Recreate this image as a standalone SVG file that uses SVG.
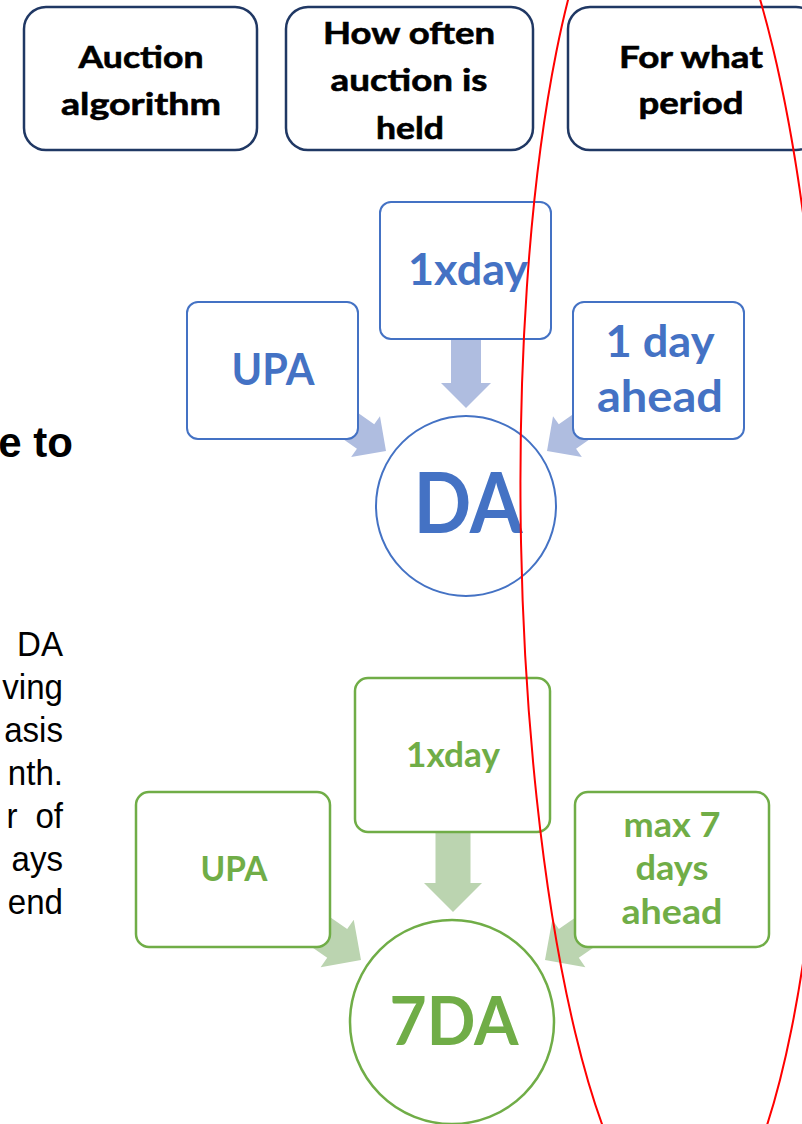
<svg xmlns="http://www.w3.org/2000/svg" width="802" height="1124" viewBox="0 0 802 1124">
  <style>
    .hdr { fill: #ffffff; stroke: #203864; stroke-width: 2.5; }
    .hdr-t { font-family: Lato, "Open Sans", sans-serif; font-weight: 700; font-size: 31px; fill: #000000; stroke: #000000; stroke-width: 0.6; text-anchor: middle; }
    .bbox { fill: #ffffff; stroke: #4472C4; stroke-width: 2; }
    .b-t { font-family: Lato, "Open Sans", sans-serif; font-weight: 700; fill: #4472C4; text-anchor: middle; }
    .gbox { fill: #ffffff; stroke: #70AD47; stroke-width: 2.5; }
    .g-t { font-family: Lato, "Open Sans", sans-serif; font-weight: 700; fill: #70AD47; text-anchor: middle; }
    .body-t { font-family: "Liberation Sans", Arial, sans-serif; font-size: 36px; fill: #000000; text-anchor: end; }
    .barrow { fill: #AFBDE0; }
    .garrow { fill: #BBD4B0; }
  </style>
  <defs>
    <!-- block arrows, tip at origin pointing along +x -->
    <path id="arrowB" d="M0,0 L-25,-25 L-25,-15 L-70,-15 L-70,15 L-25,15 L-25,25 Z"/>
    <path id="arrowBdown" d="M0,0 L-25,-25 L-25,-15 L-68,-15 L-68,15 L-25,15 L-25,25 Z"/>
    <path id="arrowG" d="M0,0 L-29,-29 L-29,-17.5 L-80,-17.5 L-80,17.5 L-29,17.5 L-29,29 Z"/>
  </defs>

  <rect width="802" height="1124" fill="#ffffff"/>

  <!-- column headers -->
  <g id="hdr-algorithm">
    <rect class="hdr" x="24" y="7" width="233" height="143" rx="22"/>
    <text class="hdr-t" x="141" y="68" textLength="125" lengthAdjust="spacingAndGlyphs">Auction</text>
    <text class="hdr-t" x="141" y="115" textLength="160" lengthAdjust="spacingAndGlyphs">algorithm</text>
  </g>
  <g id="hdr-frequency">
    <rect class="hdr" x="286" y="7" width="247" height="143" rx="22"/>
    <text class="hdr-t" x="409" y="44" textLength="172" lengthAdjust="spacingAndGlyphs">How often</text>
    <text class="hdr-t" x="409" y="91" textLength="157" lengthAdjust="spacingAndGlyphs">auction is</text>
    <text class="hdr-t" x="410" y="139" textLength="68" lengthAdjust="spacingAndGlyphs">held</text>
  </g>
  <g id="hdr-period">
    <rect class="hdr" x="568" y="7" width="250" height="143" rx="22"/>
    <text class="hdr-t" x="691" y="68" textLength="144" lengthAdjust="spacingAndGlyphs">For what</text>
    <text class="hdr-t" x="691" y="114" textLength="105" lengthAdjust="spacingAndGlyphs">period</text>
  </g>

  <!-- text column on the left -->
  <g id="side-text">
    <text x="73" y="457" font-family="'Liberation Sans', Arial, sans-serif" font-size="42" font-weight="700" text-anchor="end">e to</text>
    <g transform="scale(0.92,1)">
      <text class="body-t" x="68.5" y="656">DA</text>
      <text class="body-t" x="68.5" y="699">ving</text>
      <text class="body-t" x="68.5" y="742">asis</text>
      <text class="body-t" x="68.5" y="785">nth.</text>
      <text class="body-t" x="19" y="828">r</text>
      <text class="body-t" x="68.5" y="828">of</text>
      <text class="body-t" x="68.5" y="871">ays</text>
      <text class="body-t" x="68.5" y="914">end</text>
    </g>
  </g>

  <!-- connectors -->
  <g id="connectors">
    <use href="#arrowBdown" class="barrow" transform="translate(466,408) rotate(90)"/>
    <use href="#arrowB" class="barrow" transform="translate(386,451) rotate(35.2)"/>
    <use href="#arrowB" class="barrow" transform="translate(547,451) rotate(144.8)"/>
    <use href="#arrowG" class="garrow" transform="translate(453,912) rotate(90)"/>
    <use href="#arrowG" class="garrow" transform="translate(361,960) rotate(34.8)"/>
    <use href="#arrowG" class="garrow" transform="translate(545,960) rotate(145.2)"/>
  </g>

  <!-- DA group -->
  <g id="da-frequency">
    <rect class="bbox" x="380" y="202" width="171" height="137" rx="11"/>
    <text class="b-t" x="468" y="285" font-size="44" textLength="120" lengthAdjust="spacingAndGlyphs">1xday</text>
  </g>
  <g id="da-algorithm">
    <rect class="bbox" x="187" y="302" width="171" height="137" rx="11"/>
    <text class="b-t" x="273" y="385" font-size="44" textLength="83" lengthAdjust="spacingAndGlyphs">UPA</text>
  </g>
  <g id="da-period">
    <rect class="bbox" x="573" y="302" width="171" height="137" rx="11"/>
    <text class="b-t" x="660" y="357" font-size="44" textLength="109" lengthAdjust="spacingAndGlyphs">1 day</text>
    <text class="b-t" x="660" y="412" font-size="44" textLength="126" lengthAdjust="spacingAndGlyphs">ahead</text>
  </g>
  <g id="da-core">
    <circle cx="466" cy="506" r="90" fill="#ffffff" stroke="#4472C4" stroke-width="2"/>
    <text class="b-t" x="468" y="533" font-size="84" textLength="109" lengthAdjust="spacingAndGlyphs">DA</text>
  </g>

  <!-- 7DA group -->
  <g id="w7da-frequency">
    <rect class="gbox" x="355" y="678" width="195" height="154" rx="13"/>
    <text class="g-t" x="453" y="767" font-size="35" textLength="94" lengthAdjust="spacingAndGlyphs">1xday</text>
  </g>
  <g id="w7da-algorithm">
    <rect class="gbox" x="136" y="792" width="194" height="155" rx="13"/>
    <text class="g-t" x="234" y="881" font-size="35" textLength="67" lengthAdjust="spacingAndGlyphs">UPA</text>
  </g>
  <g id="w7da-period">
    <rect class="gbox" x="575" y="792" width="194" height="155" rx="13"/>
    <text class="g-t" x="672" y="837" font-size="35" textLength="97" lengthAdjust="spacingAndGlyphs">max 7</text>
    <text class="g-t" x="672" y="880" font-size="35" textLength="73" lengthAdjust="spacingAndGlyphs">days</text>
    <text class="g-t" x="672" y="924" font-size="35" textLength="101" lengthAdjust="spacingAndGlyphs">ahead</text>
  </g>
  <g id="w7da-core">
    <circle cx="452" cy="1022" r="102" fill="#ffffff" stroke="#70AD47" stroke-width="2.5"/>
    <text class="g-t" x="454" y="1045" font-size="66" textLength="129" lengthAdjust="spacingAndGlyphs">7DA</text>
  </g>

  <!-- hand-drawn highlight round the period column -->
  <ellipse id="highlight" cx="674" cy="540" rx="153" ry="694" fill="none" stroke="#FF0000" stroke-width="2" transform="rotate(-1.1 674 540)"/>
</svg>
